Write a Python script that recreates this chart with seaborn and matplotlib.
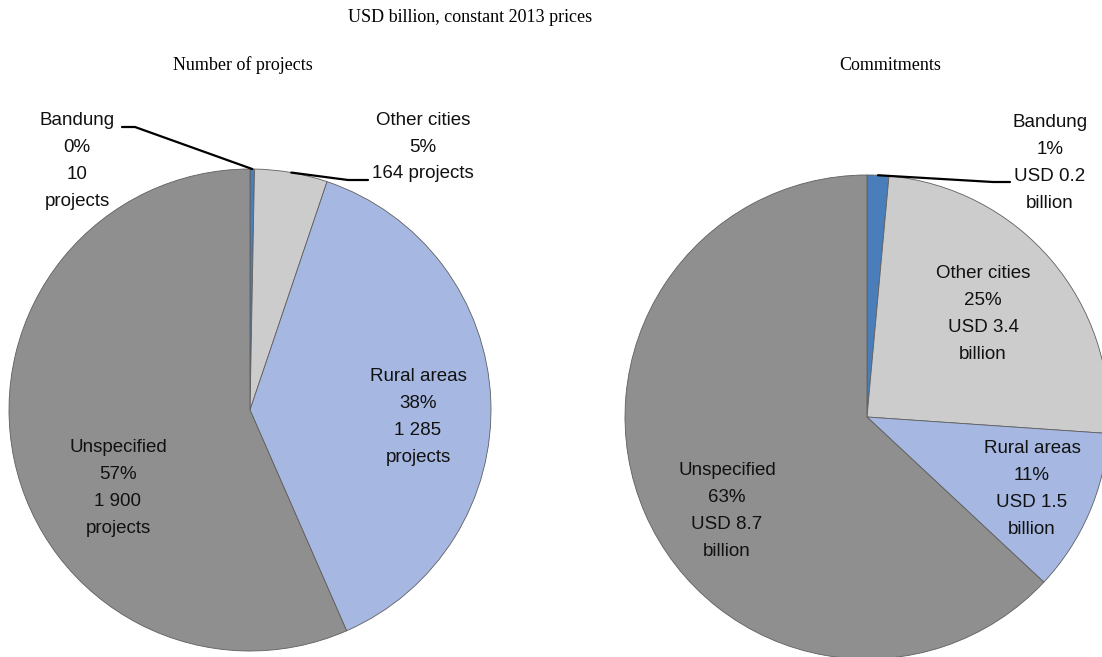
import numpy as np
import matplotlib
matplotlib.use("Agg")
import matplotlib.pyplot as plt
import seaborn as sns

# --- data -------------------------------------------------------------
categories = ["Bandung", "Other cities", "Rural areas", "Unspecified"]
projects = [10, 164, 1285, 1900]             # number of projects
commitments = [0.2, 3.4, 1.5, 8.7]           # USD billion, constant 2013 prices
colors = ["#4a7ebb", "#cccccc", "#a6b8e2", "#8f8f8f"]

suptitle = "USD billion, constant 2013 prices"
panel_titles = ["Number of projects", "Commitments"]

# --- style ------------------------------------------------------------
sns.set_theme(style="white")
plt.rcParams["font.family"] = ["Liberation Sans", "DejaVu Sans"]

W, H = 1102, 657
fig = plt.figure(figsize=(W / 100, H / 100), dpi=100)
ax = fig.add_axes([0, 0, 1, 1])

LABEL_FS = 13.5
LINESP = 1.75
TITLE_FS = 13
SERIF = ["Liberation Serif", "DejaVu Serif"]


def fmt_int(v):
    return f"{v:,}".replace(",", " ")


def pct(values):
    tot = sum(values)
    return [round(100 * v / tot) for v in values]


def draw_pie(values, center_px, radius):
    cx, cy = center_px
    wedges, _ = ax.pie(
        values, colors=colors, startangle=90, counterclock=False,
        center=(cx, H - cy), radius=radius,
        wedgeprops=dict(edgecolor="#5f5f5f", linewidth=0.6),
    )
    return wedges


def edge_point(wedge):
    ang = np.deg2rad((wedge.theta1 + wedge.theta2) / 2)
    x0, y0 = wedge.center
    return x0 + wedge.r * np.cos(ang), y0 + wedge.r * np.sin(ang)


def label(x, y, text):
    ax.text(x, H - y, text, ha="center", va="center", fontsize=LABEL_FS,
            linespacing=LINESP, color="#111111")


# --- left pie: number of projects ------------------------------------
wl = draw_pie(projects, (250, 410), 241)
pl = pct(projects)
texts_l = [f"{c}\n{p}%\n{fmt_int(v)}\nprojects" for c, p, v in zip(categories, pl, projects)]
texts_l[1] = f"{categories[1]}\n{pl[1]}%\n{fmt_int(projects[1])} projects"

label(77, 161, texts_l[0])
label(423, 147, texts_l[1])
label(418, 417, texts_l[2])
label(118, 488, texts_l[3])

# leader lines
ex, ey = edge_point(wl[0])
ax.plot([122, 135, ex], [H - 127, H - 127, ey], color="black", lw=1.6)
ex, ey = edge_point(wl[1])
ax.plot([368, 348, ex], [H - 180, H - 180, ey], color="black", lw=1.6)

# --- right pie: commitments ------------------------------------------
wr = draw_pie(commitments, (867, 417), 242)
pr = pct(commitments)
texts_r = [f"{c}\n{p}%\nUSD {v:.1f}\nbillion" for c, p, v in zip(categories, pr, commitments)]

label(1050, 163, texts_r[0])
label(983, 314, texts_r[1])
label(1032, 489, texts_r[2])
label(727, 511, texts_r[3])

ex, ey = edge_point(wr[0])
ax.plot([1010, 993, ex], [H - 182, H - 182, ey], color="black", lw=1.6)

# --- titles -----------------------------------------------------------
ax.text(470, H - 17, suptitle, ha="center", va="center", fontsize=TITLE_FS,
        family=SERIF, color="black")
ax.text(243, H - 65, panel_titles[0], ha="center", va="center", fontsize=TITLE_FS,
        family=SERIF, color="black")
ax.text(890, H - 65, panel_titles[1], ha="center", va="center", fontsize=TITLE_FS,
        family=SERIF, color="black")

ax.set_xlim(0, W)
ax.set_ylim(0, H)
ax.set_aspect("equal")
ax.axis("off")

fig.savefig("out.png", dpi=100, facecolor="white")
